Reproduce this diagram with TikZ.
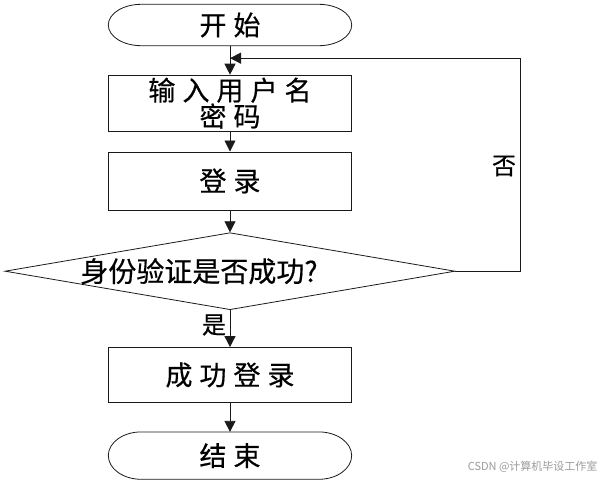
\documentclass[tikz,border=0pt]{standalone}
\usepackage{fontspec}
\newfontfamily\cjk[FakeBold=0.5]{Noto Sans CJK SC}
\newfontfamily\cjkwide[LetterSpace=26, FakeBold=0.5]{Noto Sans CJK SC}
\newfontfamily\cjkplain{Noto Sans CJK SC}
\usetikzlibrary{arrows.meta,positioning,shapes.geometric,calc}
\definecolor{edge}{HTML}{1A1A1A}
\definecolor{mark}{HTML}{9A9A9A}

\begin{document}
\begin{tikzpicture}[x=1pt, y=-1pt,
  every node/.style={font=\cjk\fontsize{27}{28}\selectfont},
  term/.style={rectangle, minimum width=243pt, inner sep=0pt, font=\cjkwide\fontsize{27}{28}\selectfont},
  proc/.style={rectangle, draw=edge, line width=0.8pt, minimum width=243pt, inner sep=0pt, align=center, font=\cjkwide\fontsize{27}{26}\selectfont},
  decide/.style={diamond, draw=edge, line width=0.8pt, aspect=5.84, minimum width=450pt, minimum height=77pt, inner sep=0pt},
  arrow/.style={-{Triangle[length=11pt, width=11pt]}, line width=0.8pt, color=edge},
  answer/.style={font=\cjk\fontsize{24}{26}\selectfont},
]
\useasboundingbox (0,0) rectangle (606,482);

% Start and end (rounded ends)
\node[term, minimum height=41pt] (start) at (230,25) {开始};

% Steps
\node[proc, minimum height=56pt, below=29pt of start] (input) {输入用户名\\密码};
\node[proc, minimum height=58pt, below=20pt of input] (login) {登录};
\node[decide, below=22pt of login, label={[xshift=-31pt, font=\cjk\fontsize{28}{29}\selectfont]center:身份验证是否成功?}] (check) {};
\node[proc, minimum height=55pt, below=37pt of check] (success) {成功登录};
\node[term, minimum height=47pt, below=29pt of success] (stop) {结束};

% Outline of the terminal shapes
\foreach \t in {start,stop}
  \draw[edge, line width=0.8pt] let \p1=(\t.north west), \p2=(\t.south east), \n1={(\y1-\y2)/2} in
    ($(\t.north west)+(33,0)$) -- ($(\t.north east)+(-33,0)$)
    arc[start angle=90, end angle=-90, x radius=33pt, y radius=\n1]
    -- ($(\t.south west)+(33,0)$)
    arc[start angle=270, end angle=90, x radius=33pt, y radius=\n1] -- cycle;

% Main flow
\draw[arrow] (start) -- (input);
\draw[arrow] (input) -- (login);
\draw[arrow] (login) -- (check);
\draw[arrow] (check) -- (success);
\draw[arrow] (success) -- (stop);

% Retry loop
\coordinate (back) at ($(start.south)!0.43!(input.north)$);
\draw[arrow] (check.east) -- ++(65,0) |- (back);

% Answers
\node[answer] (no) at (504,166) {否};
\node[answer] (yes) at (214,325) {是};

% Watermark
\node[font=\cjkplain\fontsize{11}{12}\selectfont, text=mark, anchor=east] (wm) at (601,467) {CSDN @计算机毕设工作室};

\end{tikzpicture}
\end{document}
